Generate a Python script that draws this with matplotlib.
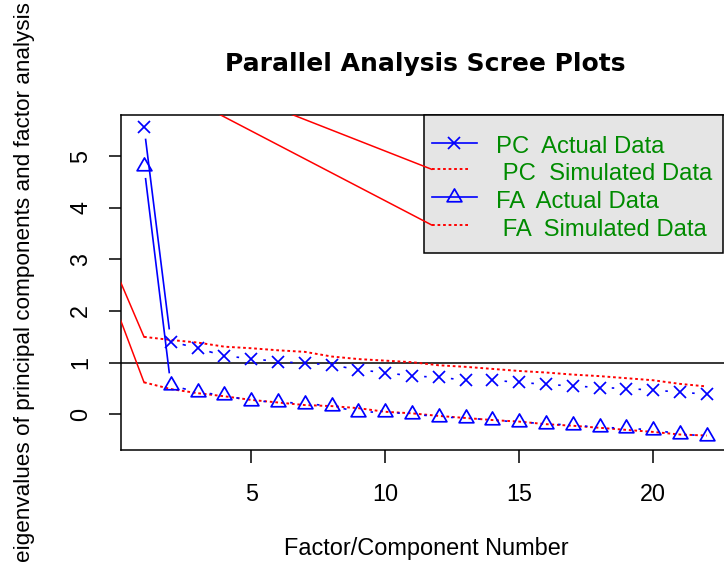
import numpy as np
import matplotlib
matplotlib.use("Agg")
import matplotlib.pyplot as plt
from matplotlib.lines import Line2D
from matplotlib.patches import Rectangle
from matplotlib.path import Path
from matplotlib.transforms import IdentityTransform

plt.rcParams['font.family'] = ['Liberation Sans', 'DejaVu Sans']

# ---- data -------------------------------------------------------------
factors = np.arange(1, 23)
pc_actual = [5.57, 1.41, 1.28, 1.13, 1.08, 1.02, 0.99, 0.96, 0.86, 0.81, 0.74,
             0.72, 0.66, 0.66, 0.62, 0.58, 0.55, 0.52, 0.50, 0.47, 0.43, 0.39]
pc_simulated = [1.50, 1.44, 1.39, 1.31, 1.28, 1.24, 1.21, 1.12, 1.07, 1.04, 1.01,
                0.95, 0.92, 0.88, 0.84, 0.81, 0.77, 0.74, 0.70, 0.66, 0.59, 0.54]
fa_actual = [4.81, 0.56, 0.43, 0.37, 0.26, 0.24, 0.21, 0.16, 0.05, 0.04, 0.01,
             -0.05, -0.07, -0.11, -0.15, -0.18, -0.21, -0.25, -0.27, -0.30, -0.38, -0.42]
fa_simulated = [0.62, 0.49, 0.41, 0.35, 0.28, 0.23, 0.18, 0.16, 0.12, 0.05, 0.02,
                -0.03, -0.07, -0.11, -0.14, -0.19, -0.22, -0.26, -0.30, -0.34, -0.39, -0.41]
x_ticks = [5, 10, 15, 20]
y_ticks = [0, 1, 2, 3, 4, 5]
legend_labels = ["PC  Actual Data", " PC  Simulated Data",
                 "FA  Actual Data", " FA  Simulated Data"]
title = "Parallel Analysis Scree Plots"
x_label = "Factor/Component Number"
y_label = "eigenvalues of principal components and factor analysis"

# ---- styling ----------------------------------------------------------
W, H = 724, 565
BLUE, RED, GREEN = "#0000FF", "#FF0000", "#008B00"
DOTTED = (0, (1.4, 1.45))
triangle = Path([(0, 1), (-0.866, -0.5), (0.866, -0.5), (0, 1)],
                [Path.MOVETO, Path.LINETO, Path.LINETO, Path.CLOSEPOLY])
x_kw = dict(marker='x', ms=8.3, mew=1.25, color=BLUE)
tri_kw = dict(marker=triangle, ms=12.3, mfc='none', mec=BLUE, mew=1.25)


def fig_xy(px, py):
    """Pixel position measured from the top-left corner -> figure fraction."""
    return px / W, 1 - py / H


fig = plt.figure(figsize=(W / 100, H / 100), dpi=100)
left, right, top, bottom = 120.7, 729.3, 114.7, 449.5
ax = fig.add_axes([left / W, 1 - bottom / H, (right - left) / W, (bottom - top) / H])
ax.set_xlim(0.13, 22.84)
ax.set_ylim(-0.68, 5.80)

for s in ax.spines.values():
    s.set_linewidth(1.1)
    s.set_color('black')

ax.set_xticks(x_ticks)
ax.set_yticks(y_ticks)
ax.tick_params(axis='both', direction='out', length=9, width=1.1, labelsize=16.8)
ax.tick_params(axis='x', pad=15)
ax.tick_params(axis='y', pad=11.4, labelrotation=90)
for t in ax.get_yticklabels():
    t.set_va('center')

# reference line at eigenvalue 1
ax.axhline(1, color='black', lw=1.1, zorder=1)

# simulated data (dotted)
ax.plot(factors, pc_simulated, color=RED, lw=1.4, linestyle=DOTTED, zorder=2)
ax.plot(factors, fa_simulated, color=RED, lw=1.4, linestyle=DOTTED, zorder=2)

# actual data: points joined by segments that stop short of each marker
ax.plot(factors, pc_actual, ls='none', zorder=3, **x_kw)
ax.plot(factors, fa_actual, ls='none', zorder=3, **tri_kw)


def gapped_segments(xs, ys, gap=13.0):
    pts = ax.transData.transform(np.column_stack([xs, ys]))
    inv = ax.transData.inverted()
    for p0, p1 in zip(pts[:-1], pts[1:]):
        d = p1 - p0
        n = np.hypot(*d)
        if n <= 2 * gap:
            continue
        a = inv.transform(p0 + d / n * gap)
        b = inv.transform(p1 - d / n * gap)
        ax.plot([a[0], b[0]], [a[1], b[1]], color=BLUE, lw=1.2, zorder=3)


gapped_segments(factors, pc_actual)
gapped_segments(factors, fa_actual)

# ---- legend -----------------------------------------------------------
lg_left, lg_right, lg_top, lg_bottom = 424, 723, 114.7, 252.7
x0, y0 = fig_xy(lg_left, lg_bottom)
fig.add_artist(Rectangle((x0, y0), (lg_right - lg_left) / W, (lg_bottom - lg_top) / H,
                         transform=fig.transFigure, facecolor='#E5E5E5',
                         edgecolor='black', lw=1.1, zorder=5))
row_line_y = [142.7, 169.3, 196.7, 225.0]
row_text_y = [152.7, 180.2, 207.9, 235.6]
sample_x0, sample_x1, dotted_x1, marker_x, text_x = 431.7, 476.7, 470.0, 454.0, 496.5
for i, (ly, ty, lab) in enumerate(zip(row_line_y, row_text_y, legend_labels)):
    ax0, ay = fig_xy(sample_x0, ly)
    if i in (0, 2):
        ax1, _ = fig_xy(sample_x1, ly)
        fig.add_artist(Line2D([ax0, ax1], [ay, ay], color=BLUE, lw=1.2,
                              transform=fig.transFigure, zorder=6))
        mk = x_kw if i == 0 else tri_kw
        mx, my = fig_xy(marker_x, ly)
        fig.add_artist(Line2D([mx], [my], ls='none', transform=fig.transFigure,
                              zorder=7, **mk))
    else:
        ax1, _ = fig_xy(dotted_x1, ly)
        fig.add_artist(Line2D([ax0, ax1], [ay, ay], color=RED, lw=1.4,
                              linestyle=DOTTED, transform=fig.transFigure, zorder=6))
    tx, tyf = fig_xy(text_x, ty)
    fig.text(tx, tyf, lab, color=GREEN, fontsize=17.2, ha='left', va='baseline', zorder=7)

# ---- stray path segments from the device origin -----------------------
origin = np.array([0.0, H])
ends = [ax.transData.transform((factors[0], pc_simulated[0])),
        ax.transData.transform((factors[0], fa_simulated[0])),
        np.array([sample_x0, H - row_line_y[1]]),
        np.array([sample_x0, H - row_line_y[3]])]
for e in ends:
    ln = Line2D([origin[0], e[0]], [origin[1], e[1]], color=RED, lw=1.1,
                transform=IdentityTransform(), zorder=6)
    ln.set_clip_box(ax.bbox)
    ln.set_clip_on(True)
    fig.add_artist(ln)

# ---- titles -----------------------------------------------------------
tx, ty = fig_xy(425.5, 71)
fig.text(tx, ty, title, ha='center', va='baseline', fontsize=18,
         fontweight='bold', family=['DejaVu Sans'])
tx, ty = fig_xy(426.5, 555.5)
fig.text(tx, ty, x_label, ha='center', va='baseline', fontsize=16.9)
tx, ty = fig_xy(25, 282)
fig.text(tx, ty, y_label, ha='center', va='center', rotation=90, fontsize=16.2)

fig.savefig("out.png", dpi=100)
